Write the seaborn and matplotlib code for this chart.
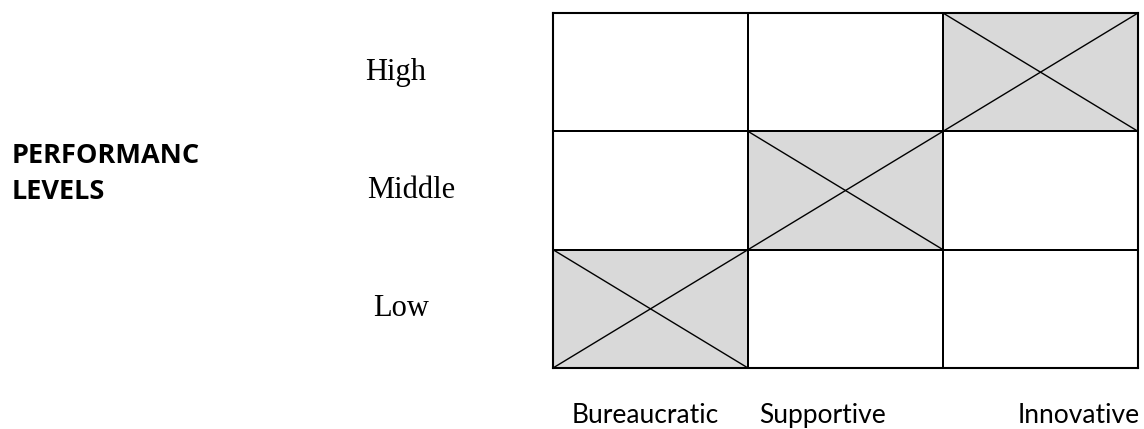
import numpy as np
import pandas as pd
import matplotlib
matplotlib.use("Agg")
import matplotlib.pyplot as plt
import matplotlib.transforms as mtransforms
import seaborn as sns
from matplotlib.colors import ListedColormap

# ---- data ----
levels = ["High", "Middle", "Low"]
cultures = ["Bureaucratic", "Supportive", "Innovative"]
shaded = [[0, 0, 1],
          [0, 1, 0],
          [1, 0, 0]]
axis_title = "PERFORMANC\nLEVELS"

sns.set_theme(style="white")
plt.rcParams['font.family'] = ['DejaVu Sans']
plt.rcParams['text.color'] = 'black'

df = pd.DataFrame(shaded, index=levels, columns=cultures)

fig = plt.figure(figsize=(11.44, 4.29), dpi=100)
ax = fig.add_axes([553/1144, 1 - 368/429, (1138-553)/1144, (368-13)/429])

cmap = ListedColormap(["#ffffff", "#d9d9d9"])
sns.heatmap(df, ax=ax, cmap=cmap, cbar=False, linewidths=1.2, linecolor="black",
            vmin=0, vmax=1, square=False)

# diagonals in shaded cells
for i, row in enumerate(shaded):
    for j, v in enumerate(row):
        if v:
            ax.plot([j, j + 1], [i, i + 1], color="black", lw=1.0, zorder=3)
            ax.plot([j, j + 1], [i + 1, i], color="black", lw=1.0, zorder=3)

for s in ax.spines.values():
    s.set_visible(True)
    s.set_color("black")
    s.set_linewidth(1.5)

# y labels (row levels)
ax.set_yticks(np.arange(len(levels)) + 0.5)
ax.set_yticklabels(levels, rotation=0, ha="left", fontsize=22,
                   family=["Liberation Serif"], color="black")
ax.tick_params(axis="y", length=0, pad=188 * 72 / 100)
for lbl, dx in zip(ax.get_yticklabels(), [0, 2, 8]):
    lbl.set_transform(lbl.get_transform() +
                      mtransforms.ScaledTranslation(dx / 100, 0, fig.dpi_scale_trans))

# x labels (culture types)
ax.set_xticks([0.5, 1, 3])
ax.set_xticklabels(cultures, rotation=0, fontsize=19, family=["Lato"], color="black")
ax.tick_params(axis="x", length=0, pad=55 * 72 / 100)
for lbl, ha, dx in zip(ax.get_xticklabels(), ["center", "left", "right"], [-5, 11, 2]):
    lbl.set_ha(ha)
    lbl.set_va("baseline")
    lbl.set_transform(lbl.get_transform() +
                      mtransforms.ScaledTranslation(dx / 100, 0, fig.dpi_scale_trans))
ax.set_xlabel("")
ax.set_ylabel("")

fig.text(12/1144, 1 - 174/429, axis_title, ha="left", va="center", color="black",
         fontsize=19.5, fontweight="bold", family=["Open Sans"], linespacing=1.5)

fig.savefig("out.png", dpi=100)
